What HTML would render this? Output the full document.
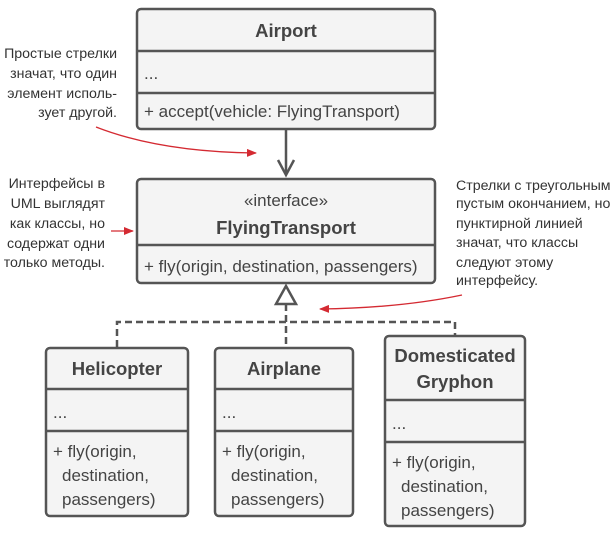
<!DOCTYPE html>
<html><head><meta charset="utf-8"><style>
html,body{margin:0;padding:0;background:#fff;}
svg{display:block;}
text{font-family:"Liberation Sans",sans-serif;fill:#444;}
.t{font-weight:bold;font-size:18.5px;}
.m{font-size:17px;}
.n{font-size:14.2px;fill:#333;}
.bx{fill:#f4f4f4;stroke:#555;stroke-width:2.5;}
.dv{stroke:#555;stroke-width:2.5;}
</style></head><body>
<svg width="616" height="533" viewBox="0 0 616 533" xmlns="http://www.w3.org/2000/svg">
<defs>
<marker id="ra" markerWidth="10" markerHeight="8" refX="9" refY="4" orient="auto" markerUnits="userSpaceOnUse">
<path d="M0,0 L10,4 L0,8 Z" fill="#d42a32"/></marker>
</defs>
<rect class="bx" x="137" y="9" width="298" height="120" rx="4"/>
<line class="dv" x1="137" y1="51" x2="435" y2="51"/>
<line class="dv" x1="137" y1="93" x2="435" y2="93"/>
<text class="t" x="286" y="37" text-anchor="middle">Airport</text>
<text class="m" x="144" y="79">...</text>
<text class="m" x="144" y="117">+ accept(vehicle: FlyingTransport)</text>
<line class="dv" x1="286" y1="129" x2="286" y2="175"/>
<path d="M278,160 L286,175 L294,160" fill="none" stroke="#555" stroke-width="2.5"/>
<rect class="bx" x="137" y="179" width="298" height="104" rx="4"/>
<line class="dv" x1="137" y1="245" x2="435" y2="245"/>
<text class="m" x="286" y="206" text-anchor="middle">«interface»</text>
<text class="t" x="286" y="234" text-anchor="middle">FlyingTransport</text>
<text class="m" x="144" y="272">+ fly(origin, destination, passengers)</text>
<path d="M276,304 L286,286 L296,304 Z" fill="#fff" stroke="#555" stroke-width="2.5"/>
<g stroke="#555" stroke-width="2.5" fill="none" stroke-dasharray="7,4">
<path d="M286,304 V347"/>
<path d="M117,347 V322 H455 V335"/>
</g>
<rect class="bx" x="46" y="348" width="142" height="168" rx="4"/>
<line class="dv" x1="46" y1="389" x2="188" y2="389"/>
<line class="dv" x1="46" y1="431" x2="188" y2="431"/>
<text class="t" x="117" y="375" text-anchor="middle">Helicopter</text>
<text class="m" x="53" y="418">...</text>
<text class="m" x="53" y="457">+ fly(origin,</text>
<text class="m" x="62" y="481">destination,</text>
<text class="m" x="62" y="505">passengers)</text>
<rect class="bx" x="215" y="348" width="138" height="168" rx="4"/>
<line class="dv" x1="215" y1="389" x2="353" y2="389"/>
<line class="dv" x1="215" y1="431" x2="353" y2="431"/>
<text class="t" x="284" y="375" text-anchor="middle">Airplane</text>
<text class="m" x="222" y="418">...</text>
<text class="m" x="222" y="457">+ fly(origin,</text>
<text class="m" x="231" y="481">destination,</text>
<text class="m" x="231" y="505">passengers)</text>
<rect class="bx" x="385" y="336" width="140" height="190" rx="4"/>
<line class="dv" x1="385" y1="400" x2="525" y2="400"/>
<line class="dv" x1="385" y1="442" x2="525" y2="442"/>
<text class="t" x="455" y="362" text-anchor="middle">Domesticated</text>
<text class="t" x="455" y="388" text-anchor="middle">Gryphon</text>
<text class="m" x="392" y="429">...</text>
<text class="m" x="392" y="468">+ fly(origin,</text>
<text class="m" x="401" y="492">destination,</text>
<text class="m" x="401" y="516">passengers)</text>
<g text-anchor="end">
<text class="n" x="117" y="58">Простые стрелки</text>
<text class="n" x="117" y="78">значат, что один</text>
<text class="n" x="117" y="98">элемент исполь-</text>
<text class="n" x="117" y="117">зует другой.</text>
<text class="n" x="105" y="188">Интерфейсы в</text>
<text class="n" x="105" y="208">UML выглядят</text>
<text class="n" x="105" y="228">как классы, но</text>
<text class="n" x="105" y="248">содержат одни</text>
<text class="n" x="105" y="267">только методы.</text>
</g>
<g>
<text class="n" x="456" y="190">Стрелки с треугольным</text>
<text class="n" x="456" y="208">пустым окончанием, но</text>
<text class="n" x="456" y="228">пунктирной линией</text>
<text class="n" x="456" y="247">значат, что классы</text>
<text class="n" x="456" y="267">следуют этому</text>
<text class="n" x="456" y="285">интерфейсу.</text>
</g>
<g stroke="#d42a32" stroke-width="1.3" fill="none">
<path d="M96,127 Q160,152 256,153" marker-end="url(#ra)"/>
<path d="M111,231 L133,231" marker-end="url(#ra)"/>
<path d="M462,295 Q400,308 320,309" marker-end="url(#ra)"/>
</g>
</svg>
</body></html>
